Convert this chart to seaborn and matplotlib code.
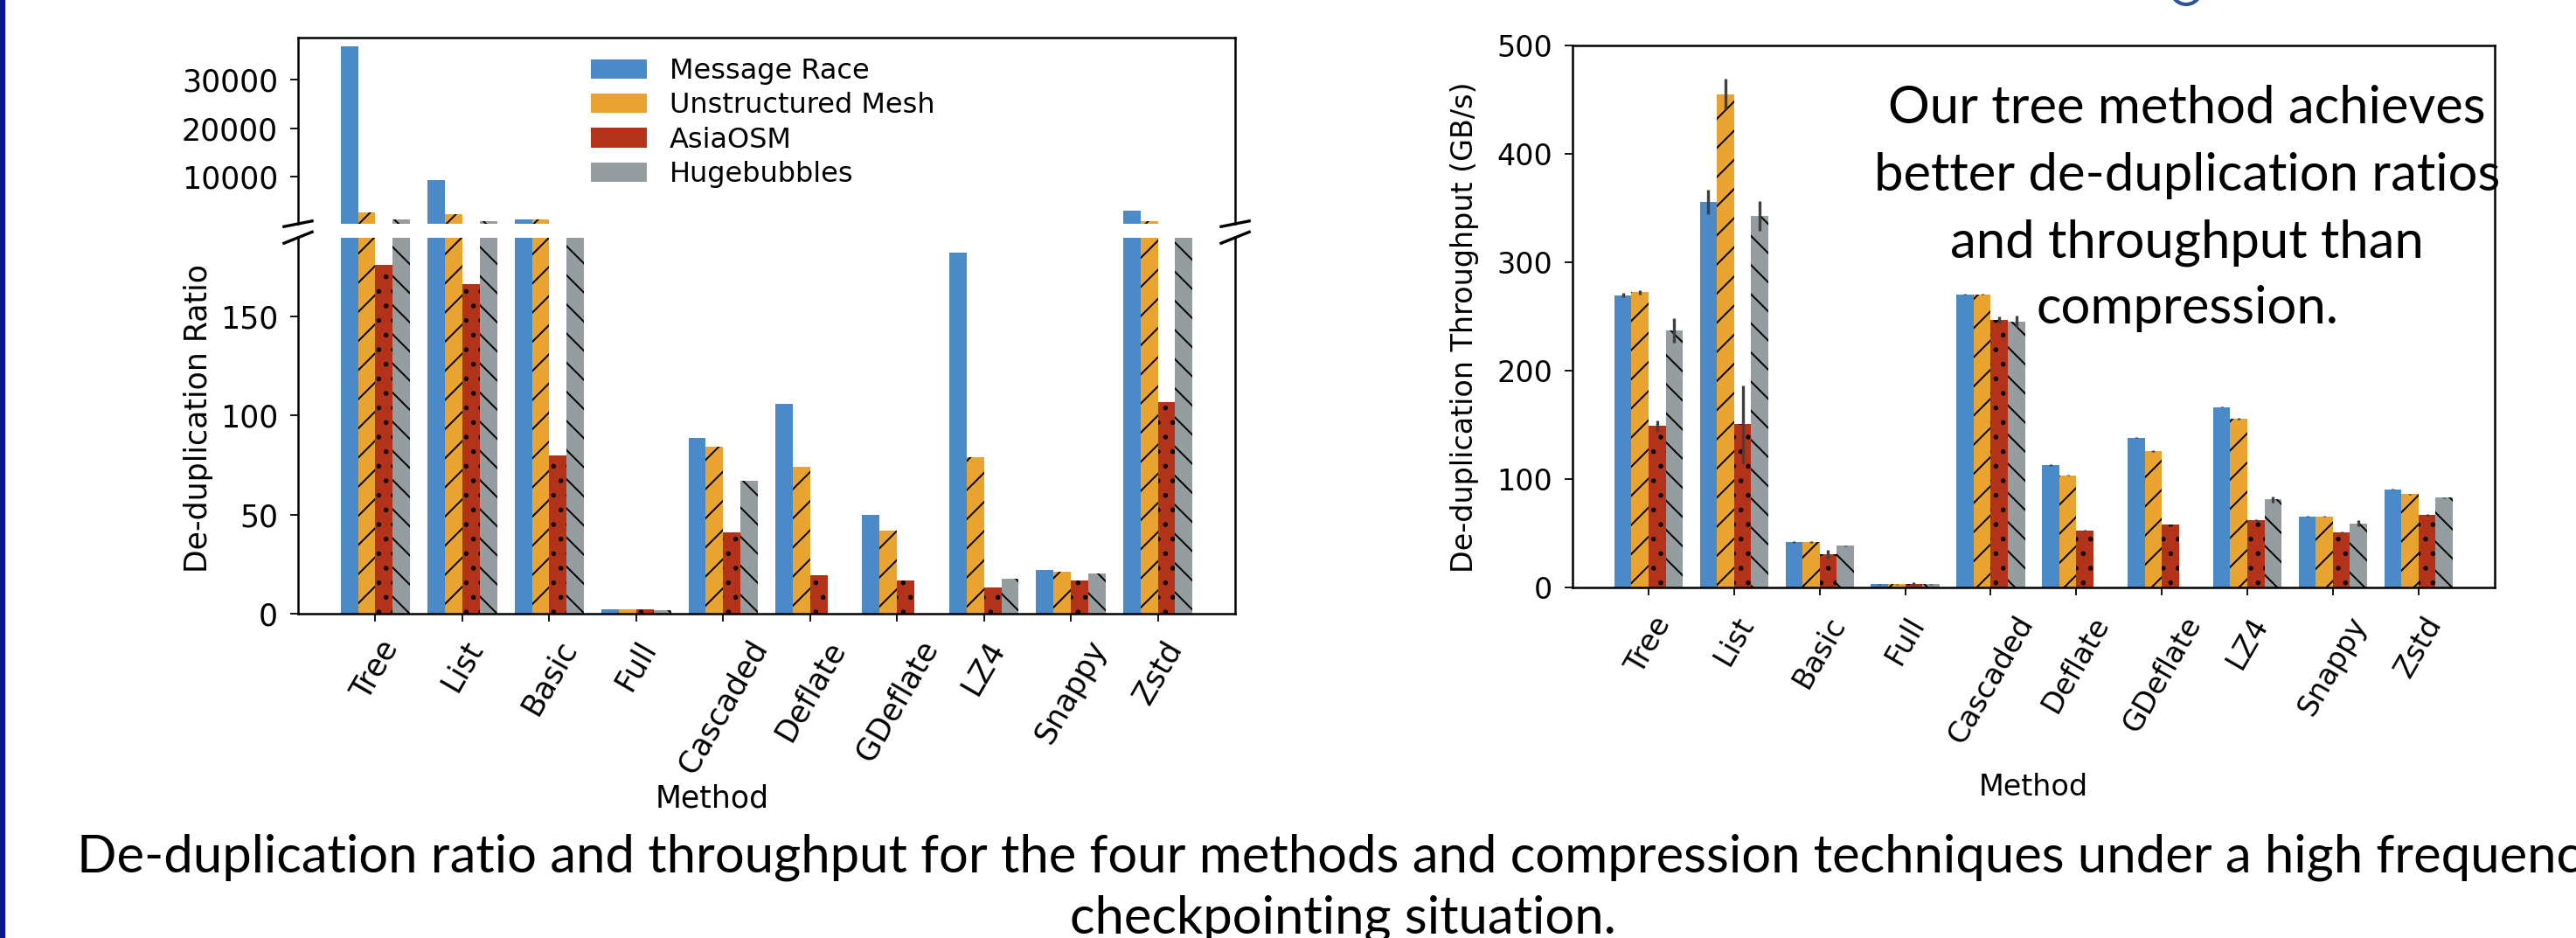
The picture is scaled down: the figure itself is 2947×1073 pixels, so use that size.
"""Recreate the de-duplication ratio / throughput slide figure."""

import numpy as np
import pandas as pd
import matplotlib
matplotlib.use("Agg")
import matplotlib.pyplot as plt
from matplotlib.patches import Rectangle, Ellipse
import seaborn as sns

# ---- data ----
methods = ["Tree", "List", "Basic", "Full", "Cascaded", "Deflate",
           "GDeflate", "LZ4", "Snappy", "Zstd"]
datasets = ["Message Race", "Unstructured Mesh", "AsiaOSM", "Hugebubbles"]

# de-duplication ratio (left, broken axis)
mr_ratio = [36800, 9390, 1310, 1.9, 88.6, 106.0, 49.7, 182.4, 22.0, 3100]
um_ratio = [2750, 2330, 1310, 2.0, 84.2, 74.0, 42.0, 79.2, 21.1, 950]
asia_ratio = [176.3, 166.5, 79.9, 2.0, 41.0, 19.5, 16.8, 13.3, 16.8, 106.8]
hb_ratio = [1310, 950, 300, 1.8, 67.0, np.nan, np.nan, 17.6, 20.2, 300]

# de-duplication throughput in GB/s (right)
mr_tp = [269.4, 355.4, 41.7, 2.7, 270.2, 112.7, 137.9, 166.1, 65.3, 90.3]
um_tp = [272.0, 454.8, 41.7, 2.8, 270.2, 103.2, 125.6, 155.4, 65.3, 85.8]
asia_tp = [148.7, 150.3, 30.4, 3.3, 246.8, 52.4, 57.6, 61.9, 50.8, 66.7]
hb_tp = [237.0, 342.7, 38.2, 2.7, 245.2, np.nan, np.nan, 81.0, 58.9, 82.6]

# half-length of the throughput error bars
mr_err = [2.0, 11.0, 0.5, 0.3, 0.5, 0.5, 0.5, 0.5, 0.5, 0.5]
um_err = [2.0, 14.0, 0.5, 0.3, 0.5, 0.5, 0.5, 0.5, 0.5, 0.5]
asia_err = [5.0, 36.0, 4.0, 1.0, 3.0, 0.5, 0.5, 0.5, 0.5, 0.5]
hb_err = [11.5, 13.5, 0.5, 0.3, 5.0, np.nan, np.nan, 3.0, 3.0, 0.5]

caption = ["De-duplication ratio and throughput for the four methods and "
           "compression techniques under a high frequency",
           "checkpointing situation."]
note = ["Our tree method achieves", "better de-duplication ratios",
        "and throughput than", "compression."]

colors = ["#4a8ac9", "#e8a330", "#b2321a", "#959da0"]
hatches = ["", "/", ".", "\\"]


def to_long(series, errs=None):
    rows = []
    for i, (name, vals) in enumerate(zip(datasets, series)):
        for j, (m, v) in enumerate(zip(methods, vals)):
            row = {"Method": m, "Dataset": name, "Value": v}
            if errs is not None:
                row["Err"] = errs[i][j]
            rows.append(row)
    return pd.DataFrame(rows).dropna()


ratio_df = to_long([mr_ratio, um_ratio, asia_ratio, hb_ratio])
tp_df = to_long([mr_tp, um_tp, asia_tp, hb_tp],
                [mr_err, um_err, asia_err, hb_err])


def style_bars(ax):
    for hatch, cont in zip(hatches, ax.containers):
        for bar in cont:
            bar.set_hatch(hatch)
            bar.set_edgecolor("black")
            bar.set_linewidth(0)


def style_axis(ax, size, xpad):
    ax.tick_params(axis="both", length=6.5, width=1.3, labelsize=size, pad=10)
    ax.tick_params(axis="x", labelrotation=60, pad=xpad)
    for sp in ax.spines.values():
        sp.set_linewidth(1.8)


plt.rcParams["hatch.linewidth"] = 1.4
plt.rcParams["font.family"] = ["DejaVu Sans"]

fig = plt.figure(figsize=(29.47, 10.73), dpi=100)
ax_top = fig.add_axes([0.1157, 0.7614, 0.3638, 0.1982])
ax_bot = fig.add_axes([0.1157, 0.3460, 0.3638, 0.4007])
ax_r = fig.add_axes([0.6104, 0.3740, 0.3580, 0.5778])

# ---- left: broken-axis de-duplication ratio ----
for ax in (ax_top, ax_bot):
    sns.barplot(data=ratio_df, x="Method", y="Value", hue="Dataset",
                order=methods, hue_order=datasets, palette=colors,
                saturation=1, errorbar=None, width=0.8, linewidth=0,
                legend=(ax is ax_top), ax=ax)
    style_bars(ax)
    style_axis(ax, 25, 11.5)
    ax.set_xlim(-0.89, 9.89)

ax_top.set_ylim(360, 38500)
ax_top.set_yticks([10000, 20000, 30000])
ax_top.spines["bottom"].set_visible(False)
ax_top.tick_params(axis="x", bottom=False, labelbottom=False)
ax_top.set_xlabel("")
ax_top.set_ylabel("")

leg = ax_top.get_legend()
handles = leg.legend_handles
labels = [t.get_text() for t in leg.get_texts()]
ax_top.legend(handles, labels, loc="upper left", bbox_to_anchor=(0.301, 0.953),
              borderaxespad=0, frameon=False, fontsize=23, labelspacing=0.26)

ax_bot.set_ylim(0, 190)
ax_bot.set_yticks([0, 50, 100, 150])
ax_bot.spines["top"].set_visible(False)
ax_bot.set_xlabel("Method", fontsize=25)
ax_bot.set_ylabel("De-duplication Ratio", fontsize=25)
ax_bot.xaxis.set_label_coords(0.442, -0.453)
ax_bot.yaxis.set_label_coords(-0.09, 0.52)

# break marks
d = 0.015
kw = dict(color="black", clip_on=False, lw=2.4)
ax_top.plot((-d, d), (-d, d), transform=ax_top.transAxes, **kw)
ax_top.plot((1 - d, 1 + d), (-d, d), transform=ax_top.transAxes, **kw)
ax_bot.plot((-d, d), (1 - d, 1 + d), transform=ax_bot.transAxes, **kw)
ax_bot.plot((1 - d, 1 + d), (1 - d, 1 + d), transform=ax_bot.transAxes, **kw)

# ---- right: throughput ----
sns.barplot(data=tp_df, x="Method", y="Value", hue="Dataset",
            order=methods, hue_order=datasets, palette=colors,
            saturation=1, errorbar=None, width=0.8, linewidth=0,
            legend=False, ax=ax_r)
style_bars(ax_r)
style_axis(ax_r, 24, 13.5)

xs, ys, es = [], [], []
for name, cont in zip(datasets, list(ax_r.containers)):
    sub = tp_df[tp_df["Dataset"] == name].set_index("Method")
    for bar in cont:
        cx = bar.get_x() + bar.get_width() / 2
        m = methods[int(round(cx))]
        xs.append(cx)
        ys.append(bar.get_height())
        es.append(sub.loc[m, "Err"])
ax_r.errorbar(xs, ys, yerr=es, fmt="none", ecolor="#404040",
              elinewidth=2.4, capsize=0)

ax_r.set_ylim(0, 500)
ax_r.set_yticks([0, 100, 200, 300, 400, 500])
ax_r.set_xlabel("Method", fontsize=24)
ax_r.set_ylabel("De-duplication Throughput (GB/s)", fontsize=24)
ax_r.xaxis.set_label_coords(0.5, -0.342)
ax_r.yaxis.set_label_coords(-0.101, 0.48)

# ---- slide decorations ----
fig.patches.append(Rectangle((0, 0), 4.5 / 2947, 1, transform=fig.transFigure,
                             color="#0a1890", zorder=5))
fig.patches.append(Ellipse((2501 / 2947, 1 + 12 / 1073), 34 / 2947, 34 / 1073,
                           transform=fig.transFigure, fill=False,
                           edgecolor="#2e5597", lw=3))

for line, yb in zip(note, [141, 218, 295, 370]):
    fig.text(2502 / 2947, 1 - yb / 1073, line, ha="center", va="baseline",
             fontsize=43, family=["Lato", "DejaVu Sans"])
for line, yb in zip(caption, [997, 1067]):
    fig.text(1536 / 2947, 1 - yb / 1073, line, ha="center", va="baseline",
             fontsize=43, family=["Lato", "DejaVu Sans"])

fig.savefig("out.png", dpi=100)
